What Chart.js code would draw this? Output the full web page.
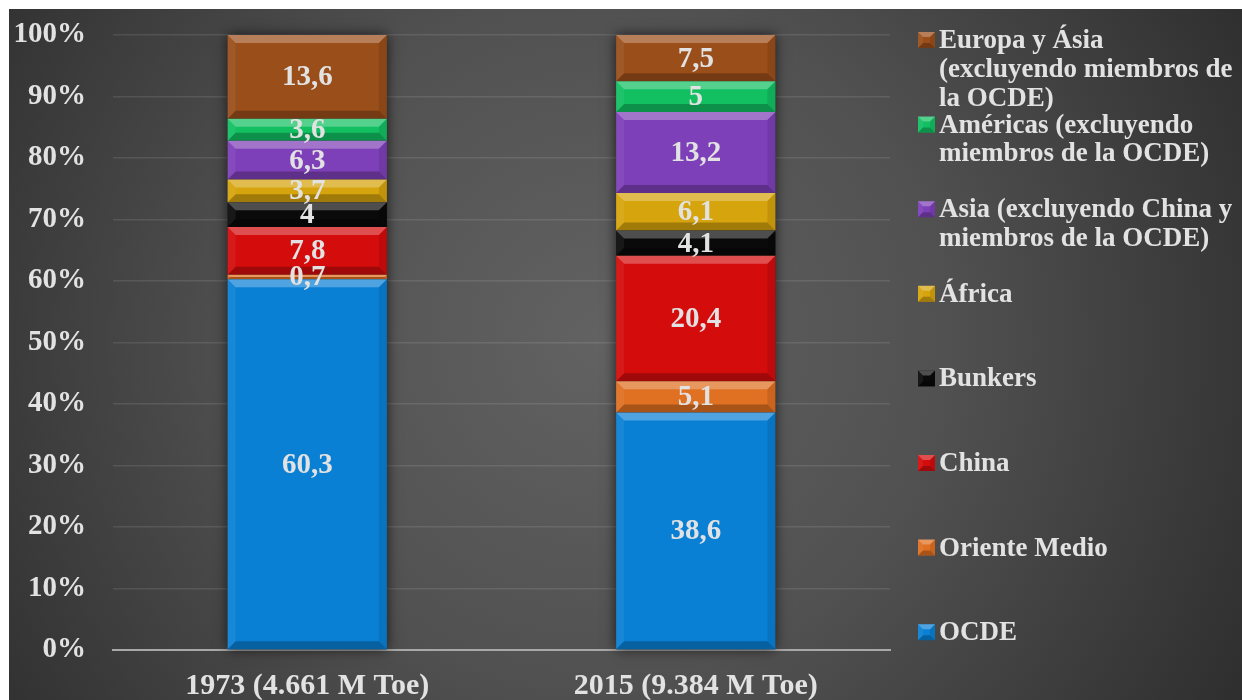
<!DOCTYPE html>
<html>
<head>
<meta charset="utf-8">
<script src="https://cdn.jsdelivr.net/npm/chart.js@4.4.1/dist/chart.umd.min.js"></script>
<style>
  html, body { margin: 0; padding: 0; background: #ffffff; }
  #wrap { position: relative; width: 1242px; height: 700px; }
</style>
</head>
<body>
<div id="wrap"><canvas id="c"></canvas></div>
<script>
// ---- data ----
const categories = ['1973 (4.661 M Toe)', '2015 (9.384 M Toe)'];
const seriesNames = [
  'OCDE',
  'Oriente Medio',
  'China',
  'Bunkers',
  'África',
  'Asia (excluyendo China y\nmiembros de la OCDE)',
  'Américas (excluyendo\nmiembros de la OCDE)',
  'Europa y Ásia\n(excluyendo miembros de\nla OCDE)'
];
const ocde = [60.3, 38.6];
const orienteMedio = [0.7, 5.1];
const china = [7.8, 20.4];
const bunkers = [4, 4.1];
const africa = [3.7, 6.1];
const asia = [6.3, 13.2];
const americas = [3.6, 5];
const europaAsia = [13.6, 7.5];
const yTicks = [0, 10, 20, 30, 40, 50, 60, 70, 80, 90, 100];

// ---- styles ----
const seriesColors = ['#0a80d4', '#e07022', '#d40c0c', '#0a0a0a', '#d6a40c', '#7e40b8', '#12c062', '#9a4e1a'];
const seriesValues = [ocde, orienteMedio, china, bunkers, africa, asia, americas, europaAsia];
const FONT = "'Liberation Serif', 'Times New Roman', serif";
const TEXT = '#e2e2e2';

const datasets = seriesValues.map((vals, i) => ({
  label: seriesNames[i],
  data: vals,
  backgroundColor: seriesColors[i],
  borderWidth: 0,
  categoryPercentage: 1,
  barPercentage: 0.41
}));

const bgPlugin = {
  id: 'bg',
  beforeDraw(chart) {
    const ctx = chart.ctx;
    ctx.save();
    ctx.fillStyle = '#ffffff';
    ctx.fillRect(0, 0, chart.width, chart.height);
    const g = ctx.createRadialGradient(600, 340, 0, 600, 340, 760);
    g.addColorStop(0, '#626262');
    g.addColorStop(0.45, '#515151');
    g.addColorStop(1, '#2c2c2c');
    ctx.fillStyle = g;
    ctx.fillRect(9, 9, chart.width - 9, chart.height - 9);
    ctx.restore();
  }
};

function rectOf(el) {
  const p = el.getProps(['x', 'y', 'base', 'width'], true);
  return { l: p.x - p.width / 2, r: p.x + p.width / 2, t: Math.min(p.y, p.base), b: Math.max(p.y, p.base), cx: p.x };
}

function bevel(ctx, l, t, r, b, size) {
  const h = b - t;
  const s = Math.min(size, h / 2, (r - l) / 2);
  ctx.fillStyle = 'rgba(255,255,255,0.28)';
  ctx.beginPath(); ctx.moveTo(l, t); ctx.lineTo(r, t); ctx.lineTo(r - s, t + s); ctx.lineTo(l + s, t + s); ctx.closePath(); ctx.fill();
  ctx.fillStyle = 'rgba(0,0,0,0.25)';
  ctx.beginPath(); ctx.moveTo(l, b); ctx.lineTo(r, b); ctx.lineTo(r - s, b - s); ctx.lineTo(l + s, b - s); ctx.closePath(); ctx.fill();
  ctx.fillStyle = 'rgba(255,255,255,0.06)';
  ctx.beginPath(); ctx.moveTo(l, t); ctx.lineTo(l + s, t + s); ctx.lineTo(l + s, b - s); ctx.lineTo(l, b); ctx.closePath(); ctx.fill();
  ctx.fillStyle = 'rgba(0,0,0,0.1)';
  ctx.beginPath(); ctx.moveTo(r, t); ctx.lineTo(r - s, t + s); ctx.lineTo(r - s, b - s); ctx.lineTo(r, b); ctx.closePath(); ctx.fill();
}

const barFx = {
  id: 'barFx',
  beforeDatasetsDraw(chart) {
    const ctx = chart.ctx;
    const first = chart.getDatasetMeta(0).data;
    const last = chart.getDatasetMeta(chart.data.datasets.length - 1).data;
    ctx.save();
    ctx.shadowColor = 'rgba(0,0,0,0.7)';
    ctx.shadowBlur = 12;
    ctx.fillStyle = '#333';
    first.forEach((el, i) => {
      const a = rectOf(el), z = rectOf(last[i]);
      ctx.fillRect(a.l, z.t, a.r - a.l, a.b - z.t);
    });
    ctx.restore();
  },
  afterDatasetsDraw(chart) {
    const ctx = chart.ctx;
    ctx.save();
    chart.data.datasets.forEach((ds, di) => {
      chart.getDatasetMeta(di).data.forEach(el => {
        const r = rectOf(el);
        bevel(ctx, r.l, r.t, r.r, r.b, 8);
      });
    });
    ctx.font = 'bold 29px ' + FONT;
    ctx.fillStyle = TEXT;
    ctx.textAlign = 'center';
    ctx.textBaseline = 'middle';
    chart.data.datasets.forEach((ds, di) => {
      chart.getDatasetMeta(di).data.forEach((el, i) => {
        const r = rectOf(el);
        ctx.fillText(String(ds.data[i]).replace('.', ','), r.cx, (r.t + r.b) / 2 + 1);
      });
    });
    ctx.restore();
  }
};

const legendPlugin = {
  id: 'customLegend',
  afterDraw(chart) {
    const ctx = chart.ctx;
    const n = chart.data.datasets.length;
    ctx.save();
    ctx.font = 'bold 27px ' + FONT;
    ctx.textAlign = 'left';
    ctx.textBaseline = 'middle';
    for (let k = 0; k < n; k++) {
      const di = n - 1 - k;
      const ds = chart.data.datasets[di];
      const y = 40 + k * 84.6;
      ctx.fillStyle = ds.backgroundColor;
      ctx.fillRect(918, y - 8, 17, 16);
      bevel(ctx, 918, y - 8, 935, y + 8, 5);
      ctx.fillStyle = TEXT;
      ds.label.split('\n').forEach((line, j) => {
        ctx.fillText(line, 939, y + 1 + j * 28.8);
      });
    }
    ctx.restore();
  }
};

new Chart(document.getElementById('c'), {
  type: 'bar',
  data: { labels: categories, datasets },
  plugins: [bgPlugin, barFx, legendPlugin],
  options: {
    responsive: true,
    maintainAspectRatio: false,
    animation: false,
    layout: { padding: { left: 0, top: 35, right: 352, bottom: 0 } },
    plugins: { legend: { display: false }, tooltip: { enabled: false } },
    scales: {
      x: {
        stacked: true,
        grid: { display: false },
        border: { display: true, color: '#a8a8a8', width: 2 },
        ticks: { color: TEXT, font: { family: FONT, size: 30, weight: 'bold' }, padding: 10 },
        afterFit(s) { s.height = 50; s.paddingLeft = 0; s.paddingRight = 0; }
      },
      y: {
        stacked: true,
        min: 0,
        max: 100,
        afterBuildTicks(s) { s.ticks = yTicks.map(v => ({ value: v })); },
        grid: { color: 'rgba(255,255,255,0.1)', lineWidth: 1.5, drawTicks: false },
        border: { display: false },
        ticks: { color: TEXT, font: { family: FONT, size: 29, weight: 'bold' }, padding: 27, callback: v => v + '%' },
        afterFit(s) { s.width = 113; s.paddingTop = 0; s.paddingBottom = 0; }
      }
    }
  }
});
</script>
</body>
</html>
